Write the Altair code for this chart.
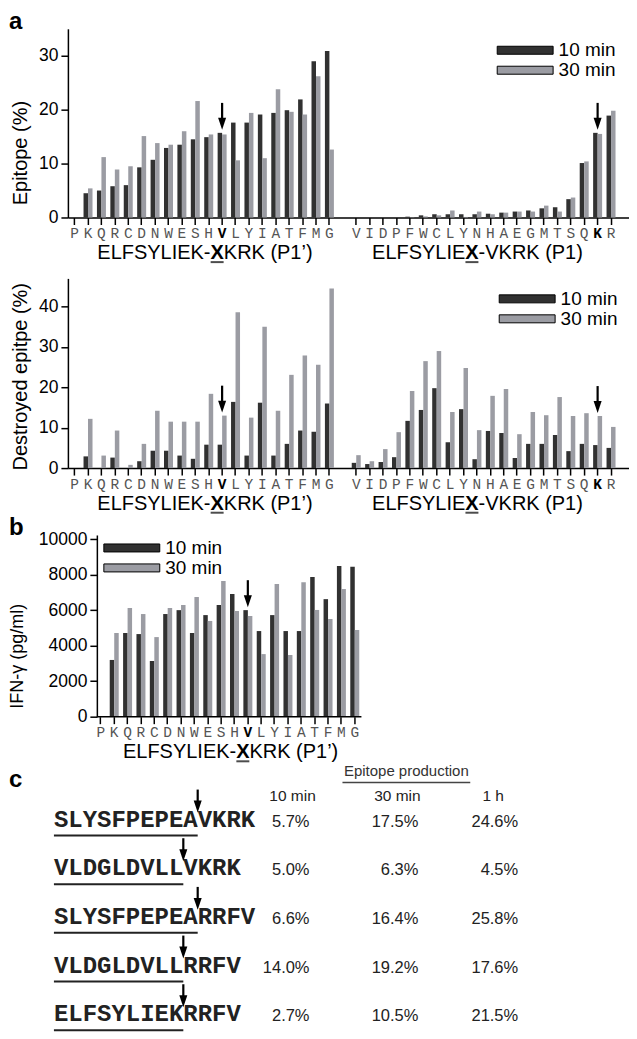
import altair as alt
import pandas as pd

# ---------------- data ----------------
cats_p1p = ["P", "K", "Q", "R", "C", "D", "N", "W", "E", "S", "H", "V", "L", "Y", "I", "A", "T", "F", "M", "G"]
cats_p1 = ["V", "I", "D", "P", "F", "W", "C", "L", "Y", "N", "H", "A", "E", "G", "M", "T", "S", "Q", "K", "R"]
series = ["10 min", "30 min"]

# panel a, top: Epitope (%)
epi_p1p_10 = [0, 4.5, 5.0, 5.8, 6.0, 9.3, 10.7, 12.9, 13.5, 14.5, 14.9, 15.7, 17.6, 17.6, 19.1, 19.4, 19.9, 21.9, 29.0, 30.9]
epi_p1p_30 = [0, 5.4, 11.2, 8.9, 9.5, 15.1, 13.8, 13.5, 16.0, 21.6, 15.4, 15.4, 10.6, 19.4, 11.0, 23.8, 19.6, 19.1, 26.2, 12.6]
epi_p1_10 = [0, 0, 0, 0, 0.15, 0.4, 0.6, 0.6, 0.6, 0.6, 0.7, 0.9, 1.1, 1.3, 1.7, 1.9, 3.4, 10.1, 15.7, 18.9]
epi_p1_30 = [0, 0, 0, 0, 0.05, 0.2, 0.4, 1.3, 0.1, 1.1, 0.6, 0.9, 1.1, 1.1, 2.2, 1.1, 3.7, 10.4, 15.5, 19.8]

# panel a, bottom: Destroyed epitope (%)
des_p1p_10 = [0, 2.9, 0, 2.6, 0, 1.7, 4.3, 4.3, 3.1, 2.3, 5.8, 5.8, 16.4, 3.1, 16.2, 3.1, 6.0, 9.3, 9.0, 16.0]
des_p1p_30 = [0, 12.2, 3.1, 9.3, 0.8, 6.0, 14.2, 11.5, 11.5, 11.5, 18.4, 13.0, 38.6, 12.5, 35.0, 14.2, 23.1, 27.9, 25.6, 44.5]
des_p1_10 = [1.3, 1.0, 1.5, 2.7, 11.7, 14.4, 19.8, 6.4, 14.6, 2.2, 9.2, 8.7, 2.5, 6.0, 6.0, 8.2, 4.2, 6.0, 5.7, 5.0]
des_p1_30 = [3.2, 1.7, 4.7, 8.9, 19.1, 26.5, 29.0, 13.9, 24.8, 9.4, 17.9, 19.6, 8.4, 13.9, 13.1, 17.6, 12.9, 13.6, 12.9, 10.2]

# panel b: IFN-gamma (pg/ml)
ifn_10 = [0, 3200, 4720, 4660, 3140, 5790, 6010, 4720, 5730, 6300, 6920, 6010, 4830, 5730, 4830, 4830, 7880, 6630, 8500, 8460]
ifn_30 = [0, 4720, 6130, 5790, 4490, 6130, 6300, 6750, 5400, 7650, 5960, 5680, 3530, 7480, 3480, 7590, 6020, 5510, 7200, 4890]

# panel c: epitope production table
pep_epitope = ["SLYSFPEPEA", "VLDGLDVLL", "SLYSFPEPEA", "VLDGLDVLL", "ELFSYLIEK"]
pep_flank = ["VKRK", "VKRK", "RRFV", "RRFV", "RRFV"]
prod_cols = ["10 min", "30 min", "1 h"]
prod_10 = [5.7, 5.0, 6.6, 14.0, 2.7]
prod_30 = [17.5, 6.3, 16.4, 19.2, 10.5]
prod_1h = [24.6, 4.5, 25.8, 17.6, 21.5]
prod_header = "Epitope production"

# ---------------- style ----------------
DARK = "#313131"
GRAY = "#9b9ca3"
SANS = "Liberation Sans"
MONO = "Liberation Mono"
HEAD = "M-0.67,-1L0.67,-1L0,1Z"
SWATCH = "M-7,-1H7V1H-7Z"

keys_a = ["L_" + c for c in cats_p1p] + ["gap"] + ["R_" + c for c in cats_p1]
keys_b = ["L_" + c for c in cats_p1p]


def long_df(groups):
    rows = []
    for pre, cats, v10, v30 in groups:
        for c, a, b in zip(cats, v10, v30):
            rows.append({"key": pre + c, "series": series[0], "value": a})
            rows.append({"key": pre + c, "series": series[1], "value": b})
    return pd.DataFrame(rows)


def bar_panel(df, keys, width, height, ydomain, yticks, ytitle, ytitle_y, ytitle_pad,
              ytitle_size, legend_xy, arrow_keys, title_rows, letter, anchor_top,
              anchor_bottom, po, xalign, yoff=0):
    hl = "datum.value == 'L_V' || datum.value == 'R_K'"
    xscale = alt.Scale(domain=keys, paddingInner=0, paddingOuter=po, align=xalign)
    xaxis = alt.Axis(
        title=None, labelAngle=0,
        labelExpr="datum.value == 'gap' ? '' : slice(datum.value, 2)",
        labelFont=MONO, labelFontSize=14.5,
        labelColor={"condition": {"test": hl, "value": "black"}, "value": "#555555"},
        labelFontWeight={"condition": {"test": hl, "value": "bold"}, "value": "normal"},
        tickOpacity={"condition": {"test": "datum.value == 'gap'", "value": 0}, "value": 1},
        tickSize=7, tickWidth=1.5, domainWidth=1.5, labelPadding=2, domain=(yoff == 0),
    )
    yscale = alt.Scale(domain=ydomain, nice=False, zero=True)
    yaxis = alt.Axis(
        title=ytitle, values=yticks, format="d", tickSize=7, tickWidth=1.5,
        domainWidth=1.5, labelFontSize=17.5, labelPadding=3, offset=-yoff,
        titleFontSize=ytitle_size, titlePadding=ytitle_pad, titleY=ytitle_y,
    )
    X = alt.X("key:N", scale=xscale, axis=xaxis)
    step = width / (len(keys) + 2 * po)
    offset_po = step / 4.5 / 2 - 1
    bars = alt.Chart(df).mark_bar().encode(
        x=X,
        xOffset=alt.XOffset("series:N", scale=alt.Scale(domain=series, paddingInner=0,
                                                        paddingOuter=offset_po)),
        y=alt.Y("value:Q", scale=yscale, axis=yaxis),
        color=alt.Color(
            "series:N",
            scale=alt.Scale(domain=series, range=[DARK, GRAY]),
            legend=alt.Legend(
                title=None, orient="none", legendX=legend_xy[0], legendY=legend_xy[1],
                symbolType=SWATCH, symbolSize=64, symbolStrokeColor="black",
                symbolStrokeWidth=1, symbolOpacity=1, labelFont=SANS, labelFontSize=19,
                labelColor="black", labelOffset=24, rowPadding=-3.5, padding=0,
            ),
        ),
    )
    arrows = (
        df[df["key"].isin(arrow_keys)]
        .groupby("key", as_index=False)["value"].max()
        .rename(columns={"value": "tip"})
    )
    Yt = alt.Y("tip:Q", scale=yscale, axis=yaxis)
    shaft = alt.Chart(arrows).mark_rule(color="black", strokeWidth=2.2, yOffset=-14,
                                        y2Offset=-30).encode(x=X, y=Yt, y2="tip:Q")
    head = alt.Chart(arrows).mark_point(shape=HEAD, size=144, filled=True, opacity=1,
                                        color="black", yOffset=-9).encode(x=X, y=Yt)
    tdf = pd.DataFrame(title_rows, columns=["key", "pre", "suf"])
    ty = height + 41.7
    tbase = alt.Chart(tdf)
    pre_t = tbase.mark_text(align="right", baseline="alphabetic", font=SANS, fontSize=20,
                            color="black", dx=-11.7).encode(x=X, y=alt.value(ty), text="pre:N")
    x_t = tbase.mark_text(align="center", baseline="alphabetic", font=SANS, fontSize=20,
                          fontWeight="bold", color="black", dx=-5).encode(
        x=X, y=alt.value(ty), text=alt.value("X"))
    suf_t = tbase.mark_text(align="left", baseline="alphabetic", font=SANS, fontSize=20,
                            color="black", dx=1.7).encode(x=X, y=alt.value(ty), text="suf:N")
    ul = tbase.mark_tick(orient="horizontal", size=13, thickness=2, color="black",
                         xOffset=-5).encode(x=X, y=alt.value(ty + 3))
    layers = [bars, shaft, head, pre_t, x_t, suf_t, ul]
    one = pd.DataFrame({"t": [letter if letter else " "]})
    if yoff:
        layers.append(alt.Chart(one).mark_rule(color="black", strokeWidth=1.5).encode(
            x=alt.value(yoff), x2=alt.value(width), y=alt.value(height)))
    if letter:
        layers.append(alt.Chart(one).mark_text(
            align="left", baseline="alphabetic", font=SANS, fontSize=24, fontWeight="bold",
            color="black").encode(x=alt.value(-59), y=alt.value(0.5), text="t:N"))
    layers.append(alt.Chart(one).mark_rule(opacity=0).encode(
        x=alt.value(-59), y=alt.value(anchor_top), y2=alt.value(anchor_bottom)))
    return alt.layer(*layers).properties(width=width, height=height)


df_a1 = long_df([("L_", cats_p1p, epi_p1p_10, epi_p1p_30), ("R_", cats_p1, epi_p1_10, epi_p1_30)])
df_a2 = long_df([("L_", cats_p1p, des_p1p_10, des_p1p_30), ("R_", cats_p1, des_p1_10, des_p1_30)])
df_b = long_df([("L_", cats_p1p, ifn_10, ifn_30)])

titles_a = [("L_V", "ELFSYLIEK-", "KRK (P1\u2019)"), ("R_N", "ELFSYLIE", "-VKRK (P1)")]
titles_b = [("L_V", "ELFSYLIEK-", "KRK (P1\u2019)")]

c1 = bar_panel(df_a1, keys_a, 562, 189, [0, 35], [0, 10, 20, 30], "Epitope (%)", 124, 8, 20,
               (448.5, 12), ["L_V", "R_K"], titles_a, "a", -20, 236, 0.42, 0)
c2 = bar_panel(df_a2, keys_a, 562, 190, [0, 47], [0, 10, 20, 30, 40], "Destroyed epitpe (%)",
               98, 8, 20, (450.5, 11), ["L_V", "R_K"], titles_a, None, -14, 237, 0.42, 0)
c3 = bar_panel(df_b, keys_b, 294, 182, [0, 10250], [0, 2000, 4000, 6000, 8000, 10000],
               "IFN-\u03b3 (pg/ml)", 121, 12, 18, (54.5, 3.5), ["L_V"], titles_b, "b",
               -20, 229, 0.982, 1, yoff=29)

# ---------------- panel c ----------------
rows = [str(i + 1) for i in range(len(pep_epitope))]
seq_df = pd.DataFrame({"row": rows, "epi": pep_epitope, "flank": pep_flank})
seq_df["full"] = seq_df["epi"] + seq_df["flank"]
seq_df["n"] = seq_df["epi"].str.len()
seq_df["z"] = 0
val_rows = []
for ci, vals in enumerate([prod_10, prod_30, prod_1h]):
    for r, v in zip(rows, vals):
        val_rows.append({"row": r, "ci": ci, "lab": f"{v:.1f}%"})
val_df = pd.DataFrame(val_rows)
hdr_df = pd.DataFrame({"ci": list(range(len(prod_cols))), "name": prod_cols})
one = pd.DataFrame({"t": [0]})

Yr = alt.Y("row:O", scale=alt.Scale(type="point", domain=rows, range=[61, 256], padding=0),
           axis=None)
cscale = alt.Scale(domain=[0, 14], range=[-14, -14 + 14 * 14.4])
seq_t = alt.Chart(seq_df).mark_text(align="left", baseline="alphabetic", font=MONO,
                                    fontWeight="bold", fontSize=24, color="#222222").encode(
    x=alt.X("z:Q", scale=cscale, axis=None), y=Yr, text="full:N")
seq_ul = alt.Chart(seq_df).mark_rule(strokeWidth=2, color="#222222", yOffset=9).encode(
    x=alt.X("z:Q", scale=cscale, axis=None), x2="n:Q", y=Yr)
seq_shaft = alt.Chart(seq_df).mark_rule(strokeWidth=2.2, color="black", yOffset=-37,
                                        y2Offset=-24).encode(
    x=alt.X("n:Q", scale=cscale, axis=None), y=Yr, y2=alt.Y2("row:O"))
seq_head = alt.Chart(seq_df).mark_point(shape=HEAD, size=144, filled=True, opacity=1,
                                        color="black", yOffset=-20).encode(
    x=alt.X("n:Q", scale=cscale, axis=None), y=Yr)
vals_t = alt.Chart(val_df).mark_text(align="right", baseline="alphabetic", font=SANS,
                                     fontSize=16.5, color="#222222").encode(
    x=alt.X("ci:Q", scale=alt.Scale(domain=[0, 1, 2], range=[242, 351, 451]), axis=None),
    y=Yr, text="lab:N")
hdr_t = alt.Chart(hdr_df).mark_text(align="center", baseline="alphabetic", font=SANS,
                                    fontSize=15.5, color="#222222").encode(
    x=alt.X("ci:Q", scale=alt.Scale(domain=[0, 1, 2], range=[225, 330, 426]), axis=None),
    y=alt.value(35), text="name:N")
top_t = alt.Chart(one).mark_text(align="center", baseline="alphabetic", font=SANS,
                                 fontSize=15, color="#333333").encode(
    x=alt.value(339), y=alt.value(10.5), text=alt.value(prod_header))
top_ul = alt.Chart(one).mark_rule(color="#444444", strokeWidth=1.5).encode(
    x=alt.value(275), x2=alt.value(403), y=alt.value(17))
c_letter = alt.Chart(one).mark_text(align="left", baseline="alphabetic", font=SANS,
                                    fontSize=24, fontWeight="bold", color="black").encode(
    x=alt.value(-59), y=alt.value(21), text=alt.value("c"))

c4 = alt.layer(seq_t, seq_ul, seq_shaft, seq_head, vals_t, hdr_t, top_t, top_ul,
               c_letter).resolve_scale(x="independent").properties(width=460, height=262)

chart = (
    alt.vconcat(c1, c2, c3, c4, spacing=0)
    .resolve_scale(x="independent", y="independent", color="independent")
    .resolve_legend(color="independent")
    .properties(padding=0)
    .configure_view(stroke=None)
    .configure_axis(grid=False, domainColor="black", tickColor="black", labelFont=SANS,
                    titleFont=SANS, titleFontWeight="normal", labelColor="black",
                    titleColor="black")
)

chart.save("out.html", embed_options={"renderer": "svg", "actions": False})
